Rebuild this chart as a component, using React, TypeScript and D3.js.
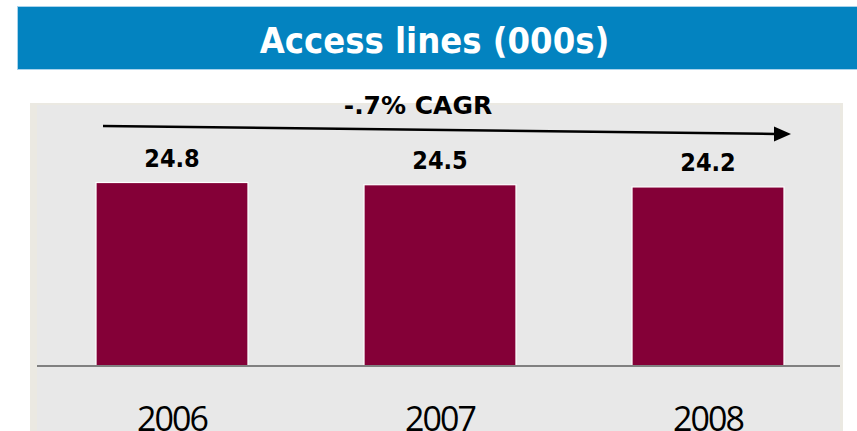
import React from "react";
import * as d3 from "d3";

const years = ["2006", "2007", "2008"];
const accessLines = [24.8, 24.5, 24.2];
const valueLabels = ["24.8", "24.5", "24.2"];
const title = "Access lines (000s)";
const cagrLabel = "-.7% CAGR";

const width = 857;
const height = 431;
const baseY = 366;

const App: React.FC = () => {
  const x = d3
    .scaleBand<string>()
    .domain(years)
    .range([38, 842])
    .paddingInner(0.433)
    .paddingOuter(0.2165);

  const y = d3.scaleLinear().domain([0, 24.8]).range([baseY, 182.5]);

  // trend arrow goes from above first bar to past the last one
  const arrowStart: [number, number] = [103, 126];
  const arrowEnd: [number, number] = [776, 134];
  const tip: [number, number] = [791, 134];

  const condensed = "'DejaVu Sans Condensed', 'DejaVu Sans', sans-serif";

  return (
    <svg
      width={width}
      height={height}
      style={{ position: "absolute", left: 0, top: 0, display: "block" }}
    >
      <rect x={0} y={0} width={width} height={height} fill="#ffffff" />

      {/* title bar */}
      <rect x={17} y={6} width={width - 17} height={64} fill="#0383c0" />
      <line x1={17} x2={width} y1={69.5} y2={69.5} stroke="#a9d3ec" strokeWidth={1} />
      <line x1={17.5} x2={17.5} y1={6} y2={70} stroke="#a9d3ec" strokeWidth={1} />
      <line x1={17} x2={width} y1={6.5} y2={6.5} stroke="#a9d3ec" strokeWidth={1} />
      <text
        x={434.5}
        y={53}
        textAnchor="middle"
        fill="#ffffff"
        fontFamily={condensed}
        fontWeight="bold"
        fontSize={36}
      >
        {title}
      </text>

      {/* plot background */}
      <rect x={30} y={103} width={813} height={height - 103} fill="#ebe9e2" />
      <rect x={37} y={105} width={803} height={height - 105} fill="#e8e8e8" />

      {/* bars */}
      {years.map((yr, i) => (
        <rect
          key={yr}
          x={x(yr)}
          y={y(accessLines[i])}
          width={x.bandwidth()}
          height={baseY - y(accessLines[i])}
          fill="#840037"
          stroke="#ffffff"
          strokeWidth={1.2}
        />
      ))}

      {/* baseline */}
      <line x1={37} x2={840} y1={baseY} y2={baseY} stroke="#808080" strokeWidth={2} />

      {/* value labels */}
      {years.map((yr, i) => (
        <text
          key={"v" + yr}
          x={(x(yr) as number) + x.bandwidth() / 2}
          y={y(accessLines[i]) - 16}
          textAnchor="middle"
          fontFamily={condensed}
          fontWeight="bold"
          fontSize={25}
          fill="#000000"
        >
          {valueLabels[i]}
        </text>
      ))}

      {/* year labels */}
      {years.map((yr) => (
        <text
          key={"t" + yr}
          x={(x(yr) as number) + x.bandwidth() / 2}
          y={431}
          textAnchor="middle"
          fontFamily="'Open Sans', 'Noto Sans', sans-serif"
          fontSize={34}
          letterSpacing={-2}
          fill="#000000"
        >
          {yr}
        </text>
      ))}

      {/* CAGR arrow */}
      <line
        x1={arrowStart[0]}
        y1={arrowStart[1]}
        x2={arrowEnd[0]}
        y2={arrowEnd[1]}
        stroke="#000000"
        strokeWidth={2.5}
      />
      <path
        d={`M${tip[0]},${tip[1]}L${arrowEnd[0] - 2},${tip[1] - 7.5}L${arrowEnd[0] - 2},${tip[1] + 7.5}Z`}
        fill="#000000"
      />
      <text
        x={418}
        y={114}
        textAnchor="middle"
        fontFamily="'DejaVu Sans', sans-serif"
        fontWeight="bold"
        fontSize={25}
        fill="#000000"
      >
        {cagrLabel}
      </text>
    </svg>
  );
};

export default App;
